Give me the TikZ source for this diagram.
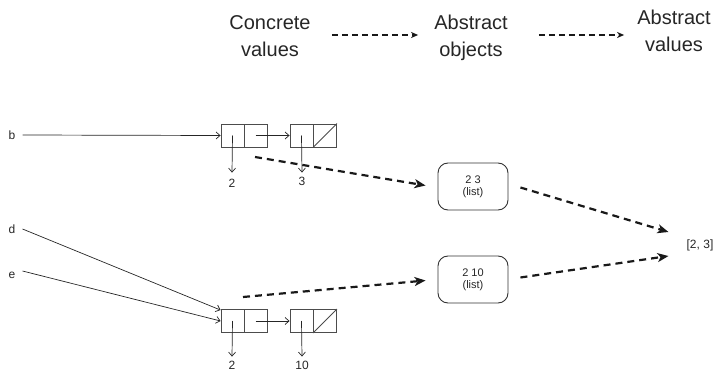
\documentclass[tikz,border=0pt]{standalone}
\usepackage{fontspec}
\setmainfont{Liberation Sans}
\usetikzlibrary{arrows.meta,calc}

\begin{document}
\begin{tikzpicture}[x=1pt,y=-1pt,
  header/.style={align=center,font=\fontsize{20}{27}\selectfont,text=black!85,inner sep=0},
  varname/.style={font=\fontsize{12}{14}\selectfont,text=black!85,inner sep=0},
  numlabel/.style={font=\fontsize{12}{14}\selectfont,text=black!85,inner sep=0},
  cell/.style={draw=black!70,line width=0.9pt,minimum width=23,minimum height=23,inner sep=0},
  absobj/.style={draw=black!80,line width=0.9pt,rounded corners=10pt,minimum width=70,minimum height=47,
                 align=center,font=\fontsize{11}{12}\selectfont,text=black!85},
  ptr/.style={draw=black!85,line width=0.7pt,-{Straight Barb[length=4pt,width=7pt]}},
  absmap/.style={draw=black!90,line width=2.2pt,dash pattern=on 7pt off 5pt,
                 -{Stealth[length=11pt,width=9pt,inset=3pt]}},
  legendmap/.style={draw=black!90,line width=1.4pt,dash pattern=on 6pt off 4pt,
                 -{Stealth[length=7pt,width=6pt,inset=2pt]}}
]
\useasboundingbox (0,0) rectangle (716,372);

% column headings
\node[header] (h1) at (270,36) {Concrete\\values};
\node[header] (h2) at (471,38) {Abstract\\objects};
\node[header] (h3) at (674,31) {Abstract\\values};
\draw[legendmap] ([xshift=21]h1.east |- 0,35) -- ([xshift=-16]h2.west |- 0,35);
\draw[legendmap] ([xshift=31]h2.east |- 0,35) -- ([xshift=-13]h3.west |- 0,35);

% variable names
\node[varname] (b) at (12,135) {b};
\node[varname] (d) at (12,229) {d};
\node[varname] (e) at (12,275) {e};

% list [2, 3] referenced by b
\node[cell] (c1a) at (232.5,135.5) {};
\node[cell] (c1b) at (255.5,135.5) {};
\node[cell] (c2a) at (301.5,135.5) {};
\node[cell] (c2b) at (325,135.5) {};
\draw[black!70,line width=0.9pt] (c2b.south west) -- (c2b.north east);
\node[numlabel] (n1) at (232,183) {2};
\node[numlabel] (n2) at (302,181) {3};
\draw[ptr] ([xshift=7]b.east) -- (c1a.west);
\draw[ptr] (c1a.center) -- ([yshift=6]n1.north);
\draw[ptr] (c1b.center) -- (c2a.west);
\draw[ptr] (c2a.center) -- ([yshift=4]n2.north);

% list [2, 10] referenced by d and e
\node[cell] (c3a) at (232.5,321) {};
\node[cell] (c3b) at (255.5,321) {};
\node[cell] (c4a) at (301.5,321) {};
\node[cell] (c4b) at (325,321) {};
\draw[black!70,line width=0.9pt] (c4b.south west) -- (c4b.north east);
\node[numlabel] (n3) at (232,365) {2};
\node[numlabel] (n4) at (302,365) {10};
\draw[ptr] ([xshift=7]d.east) -- ([yshift=-1]c3a.north west);
\draw[ptr] ([xshift=7,yshift=4]e.east) -- (c3a.west);
\draw[ptr] (c3a.center) -- ([yshift=4]n3.north);
\draw[ptr] (c3b.center) -- (c4a.west);
\draw[ptr] (c4a.center) -- ([yshift=4]n4.north);

% abstract objects
\node[absobj] (o1) at (473,186.5) {2 3\\(list)};
\node[absobj] (o2) at (473,279.5) {2 10\\(list)};

% abstract value
\node[font=\fontsize{12}{14}\selectfont,text=black!85,inner sep=0] (v) at (700,245) {[2, 3]};

% abstraction maps
\coordinate (s1) at (255,157);
\coordinate (s2) at (243,297);
\draw[absmap] (s1) -- ([shift={(-12,-1)}]o1.west);
\draw[absmap] (s2) -- ([shift={(-12,1)}]o2.west);
\draw[absmap] ([shift={(12,1)}]o1.east) -- ([shift={(-18,-13)}]v.west);
\draw[absmap] ([shift={(12,-2)}]o2.east) -- ([shift={(-18,11)}]v.west);
\end{tikzpicture}
\end{document}
